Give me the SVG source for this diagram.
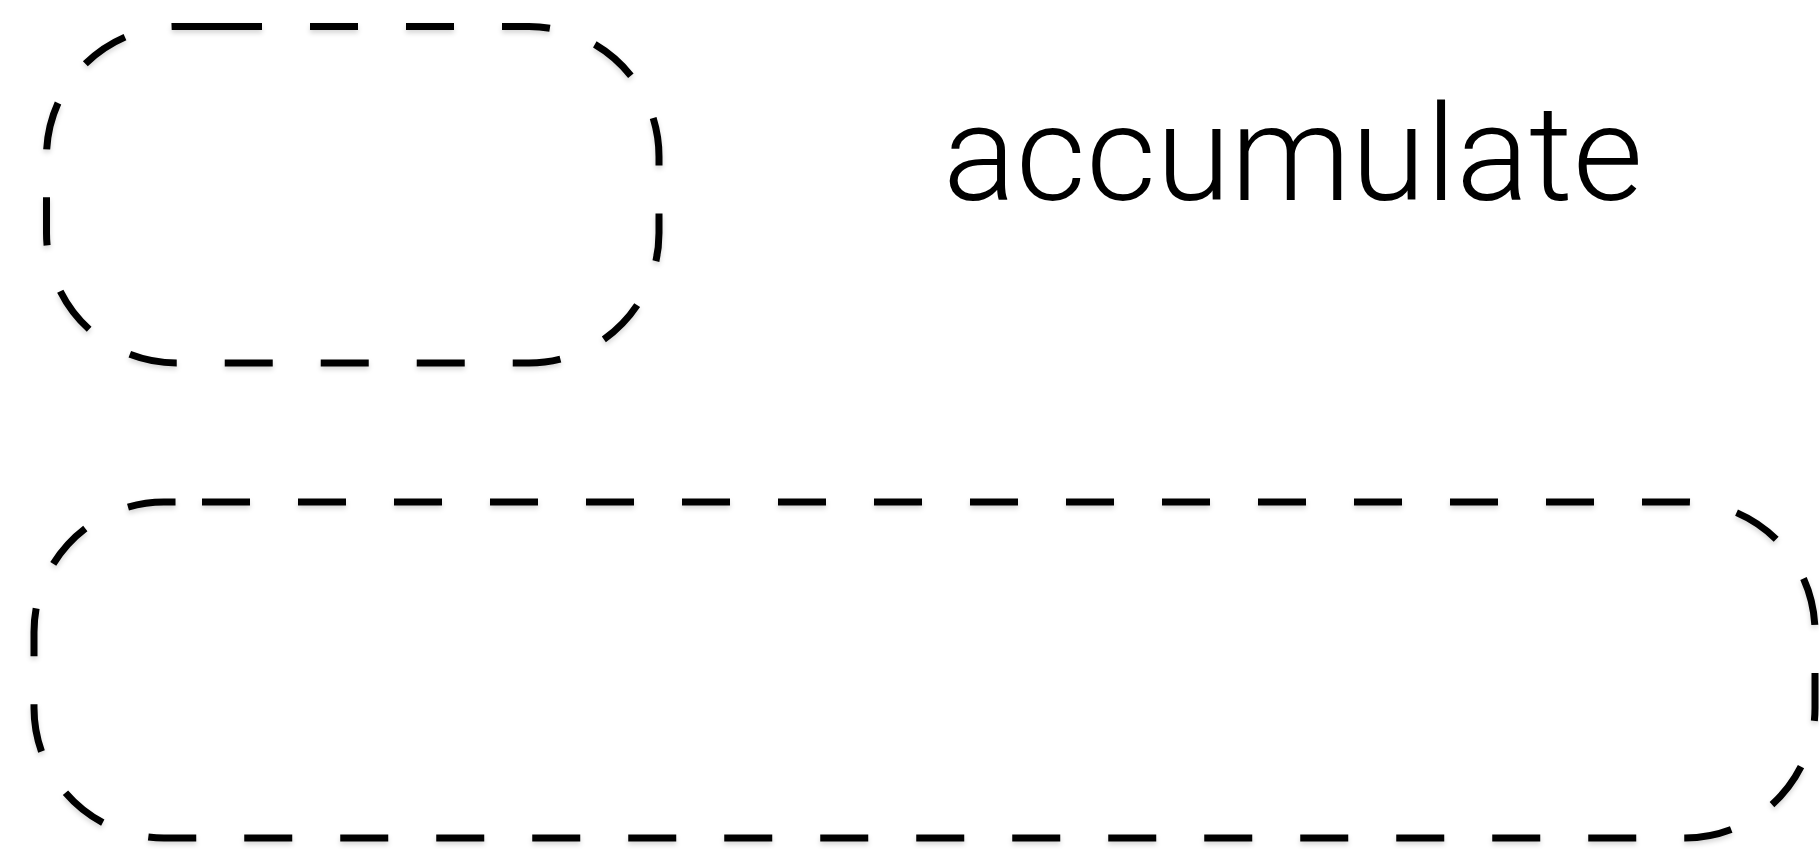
<svg xmlns="http://www.w3.org/2000/svg" width="1819" height="849" viewBox="0 0 1819 849">
<defs>
<filter id="sh" x="-5%" y="-5%" width="110%" height="115%">
<feDropShadow dx="0" dy="3" stdDeviation="2.5" flood-color="#000" flood-opacity="0.16"/>
</filter>
</defs>
<style>
.box{fill:none;stroke:#000;stroke-width:7;stroke-dasharray:48 48;}
.lbl{font-family:Roboto,"Liberation Sans",Arial,sans-serif;font-weight:300;font-size:134px;fill:#000;}
</style>
<rect width="1819" height="849" fill="#fff"/>
<g id="node-top" filter="url(#sh)">
<path class="box" d="M214,26.5 H529 A130,130 0 0 1 659,156.5 V233 A130,130 0 0 1 529,363 H176.5 A130,130 0 0 1 46.5,233 V156.5 A130,130 0 0 1 176.5,26.5 H214"/>
</g>
<g id="node-bottom" filter="url(#sh)">
<path class="box" d="M202,502 H1685 A130,130 0 0 1 1815,632 V708 A130,130 0 0 1 1685,838 H164 A130,130 0 0 1 34,708 V632 A130,130 0 0 1 164,502 H202"/>
</g>
<g id="label">
<text class="lbl" x="943" y="200" textLength="700" lengthAdjust="spacingAndGlyphs">accumulate</text>
</g>
<g id="connectors"></g>
</svg>
